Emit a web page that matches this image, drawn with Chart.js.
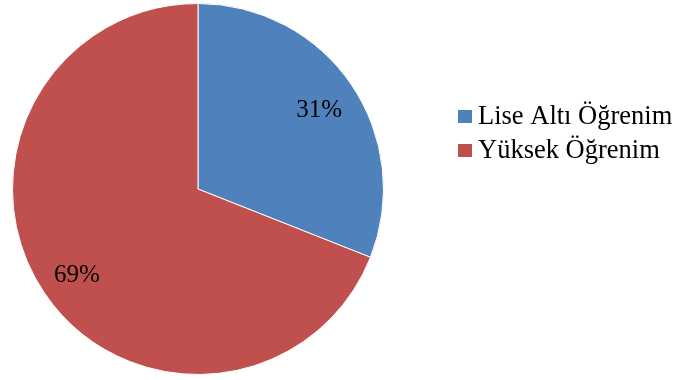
<!DOCTYPE html>
<html>
<head>
<meta charset="utf-8">
<script src="https://cdn.jsdelivr.net/npm/chart.js@4/dist/chart.umd.min.js"></script>
<style>
  html, body { margin: 0; padding: 0; background: #ffffff; }
  #wrap { width: 676px; height: 380px; position: relative; }
</style>
</head>
<body>
<div id="wrap"><canvas id="c" width="676" height="380"></canvas></div>
<script>
// Education level distribution
const categories = ['Lise Altı Öğrenim', 'Yüksek Öğrenim'];
const shares = [31, 69];
const sliceColors = ['#4F81BD', '#C0504D'];

const SERIF = '"Liberation Serif", "Times New Roman", serif';

// Percentage text placed along each slice's middle angle
const sliceLabels = {
  id: 'sliceLabels',
  afterDatasetsDraw(chart) {
    const ctx = chart.ctx;
    const meta = chart.getDatasetMeta(0);
    const data = chart.data.datasets[0].data;
    ctx.save();
    ctx.font = '25px ' + SERIF;
    ctx.fillStyle = '#000000';
    ctx.textAlign = 'center';
    ctx.textBaseline = 'middle';
    meta.data.forEach((arc, i) => {
      const p = arc.getProps(['x', 'y', 'startAngle', 'endAngle', 'outerRadius'], true);
      const mid = (p.startAngle + p.endAngle) / 2;
      const r = p.outerRadius * 0.79;
      ctx.fillText(data[i] + '%', p.x + Math.cos(mid) * r, p.y + Math.sin(mid) * r + 4);
    });
    ctx.restore();
  }
};

// Legend to the right of the pie
const sideLegend = {
  id: 'sideLegend',
  afterDraw(chart) {
    const ctx = chart.ctx;
    const labels = chart.data.labels;
    const colors = chart.data.datasets[0].backgroundColor;
    const x0 = 458, firstBaseline = 124, rowStep = 34;
    ctx.save();
    ctx.font = '26.5px ' + SERIF;
    ctx.textAlign = 'left';
    ctx.textBaseline = 'alphabetic';
    labels.forEach((lab, i) => {
      const base = firstBaseline + i * rowStep;
      ctx.fillStyle = colors[i];
      ctx.fillRect(x0, base - 14, 14, 13);
      ctx.fillStyle = '#000000';
      ctx.fillText(lab, x0 + 20, base);
    });
    ctx.restore();
  }
};

new Chart(document.getElementById('c'), {
  type: 'pie',
  data: {
    labels: categories,
    datasets: [{
      data: shares,
      backgroundColor: sliceColors,
      borderColor: '#ffffff',
      borderWidth: 1
    }]
  },
  options: {
    responsive: false,
    animation: false,
    layout: { padding: { left: 12, top: 3, right: 292, bottom: 5 } },
    plugins: {
      legend: { display: false },
      tooltip: { enabled: false }
    }
  },
  plugins: [sliceLabels, sideLegend]
});
</script>
</body>
</html>
